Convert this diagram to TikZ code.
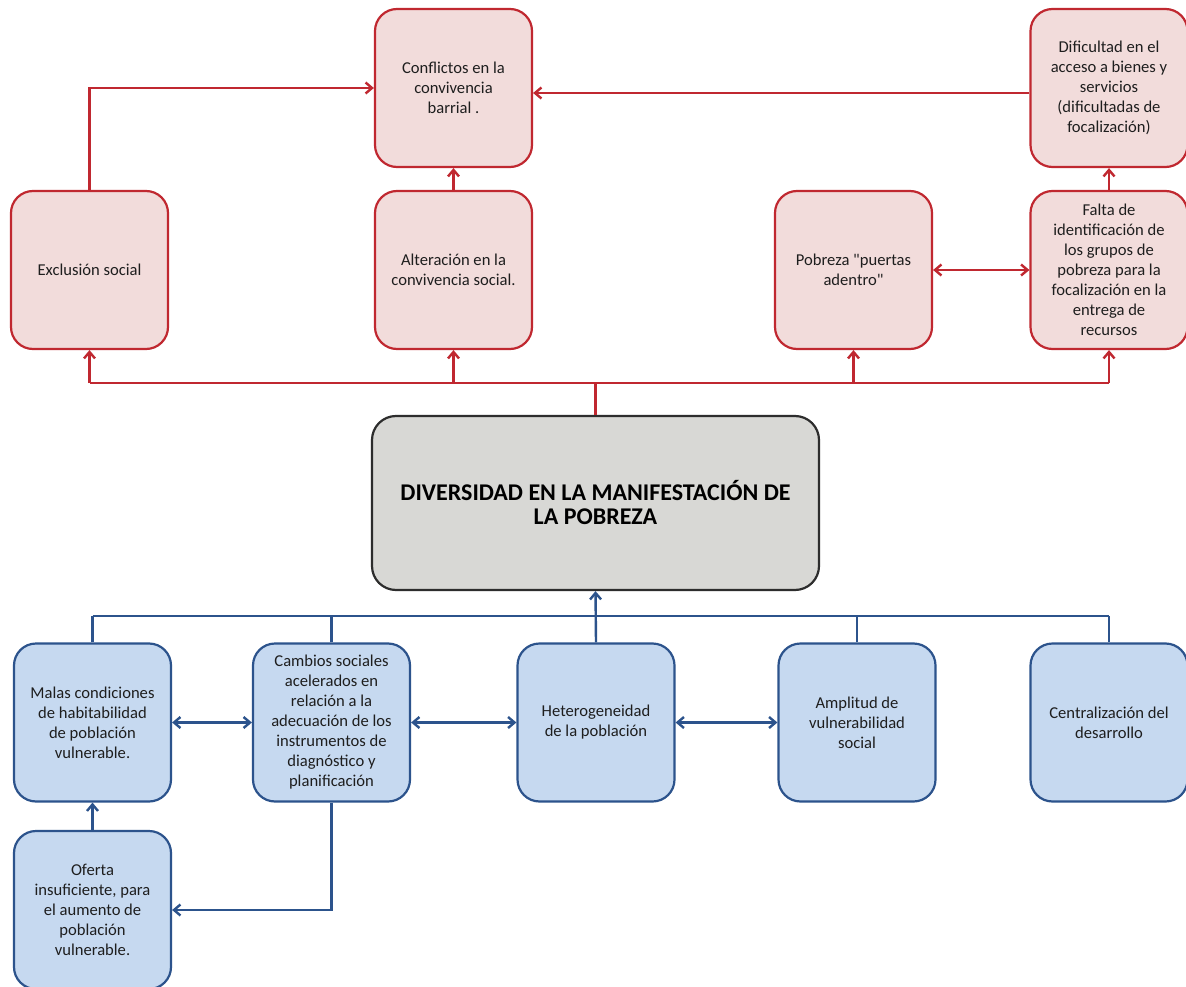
\documentclass[tikz,border=0pt]{standalone}
\usepackage{fontspec}
\setmainfont{Carlito}
\usetikzlibrary{arrows.meta}
\definecolor{rline}{RGB}{192,40,48}
\definecolor{rfill}{RGB}{242,220,219}
\definecolor{bline}{RGB}{44,83,140}
\definecolor{bfill}{RGB}{198,217,240}
\definecolor{gfill}{RGB}{216,216,213}
\definecolor{gline}{RGB}{45,45,45}
\definecolor{txt}{RGB}{30,30,30}
\begin{document}
\begin{tikzpicture}[x=1pt,y=-1pt,
 box/.style={rounded corners=22pt, minimum width=157pt, minimum height=158pt, align=center, line width=2.2pt, inner sep=0pt, font=\fontsize{16.6}{20}\selectfont, text=txt},
 redbox/.style={box, draw=rline, fill=rfill},
 bluebox/.style={box, draw=bline, fill=bfill},
 redline/.style={draw=rline, line width=2.4pt},
 blueline/.style={draw=bline, line width=2.4pt},
 tip/.style={-{Straight Barb[length=6.5pt,width=11pt]}},
 dtip/.style={{Straight Barb[length=6.5pt,width=11pt]}-{Straight Barb[length=6.5pt,width=11pt]}}
]
\useasboundingbox[fill=white] (0,0) rectangle (1186,987);

% red boxes
\node[redbox] (confl) at (453.5,88) {Conflictos en la\\convivencia\\barrial .};
\node[redbox] (dific) at (1109,88) {Dificultad en el\\acceso a bienes y\\servicios\\(dificultadas de\\focalización)};
\node[redbox] (excl) at (89.5,270) {Exclusión social};
\node[redbox] (alter) at (453.5,270) {Alteración en la\\convivencia social.};
\node[redbox] (pobre) at (853.5,270) {Pobreza \textquotedbl puertas\\adentro\textquotedbl};
\node[redbox] (falta) at (1109,270) {Falta de\\identificación de\\los grupos de\\pobreza para la\\focalización en la\\entrega de\\recursos};

% central box
\node[rounded corners=24pt, draw=gline, fill=gfill, line width=2.2pt, minimum width=447pt, minimum height=174pt, align=center, font=\fontsize{24}{24}\selectfont\bfseries, text=black] (center) at (595.5,503) {DIVERSIDAD EN LA MANIFESTACIÓN DE\\LA POBREZA};

% blue boxes
\node[bluebox] (malas) at (92.5,722.5) {Malas condiciones\\de habitabilidad\\de población\\vulnerable.};
\node[bluebox] (cambios) at (331.5,722.5) {Cambios sociales\\acelerados en\\relación a la\\adecuación de los\\instrumentos de\\diagnóstico y\\planificación};
\node[bluebox] (hetero) at (596,722.5) {Heterogeneidad\\de la población};
\node[bluebox] (ampl) at (857,722.5) {Amplitud de\\vulnerabilidad\\social};
\node[bluebox] (centr) at (1109,722.5) {Centralización del\\desarrollo};
\node[bluebox] (oferta) at (92.5,910) {Oferta\\insuficiente, para\\el aumento de\\población\\vulnerable.};

% red connectors
\coordinate (rbus) at (596,383);
\draw[redline,tip] (excl.north) |- (confl.west);
\draw[redline,tip] ([yshift=-5pt]dific.west) -- ([yshift=-5pt]confl.east);
\draw[redline,tip] (alter.north) -- (confl.south);
\draw[redline,tip] (falta.north) -- (dific.south);
\draw[redline,dtip] (pobre.east) -- (falta.west);
\draw[redline] (center.north) -- (center.north |- rbus);
\draw[redline] (excl.south |- rbus) -- (falta.south |- rbus);
\draw[redline,tip] (excl.south |- rbus) -- (excl.south);
\draw[redline,tip] (alter.south |- rbus) -- (alter.south);
\draw[redline,tip] (pobre.south |- rbus) -- (pobre.south);
\draw[redline,tip] (falta.south |- rbus) -- (falta.south);

% blue connectors
\coordinate (bbus) at (596,616);
\draw[blueline] (malas.north |- bbus) -- (centr.north |- bbus);
\draw[blueline] (malas.north) -- (malas.north |- bbus);
\draw[blueline] (cambios.north) -- (cambios.north |- bbus);
\draw[blueline,tip] (hetero.north) -- (center.south);
\draw[blueline] (ampl.north) -- (ampl.north |- bbus);
\draw[blueline] (centr.north) -- (centr.north |- bbus);
\draw[blueline,dtip] (malas.east) -- (cambios.west);
\draw[blueline,dtip] (cambios.east) -- (hetero.west);
\draw[blueline,dtip] (hetero.east) -- (ampl.west);
\draw[blueline,tip] (oferta.north) -- (malas.south);
\draw[blueline,tip] (cambios.south) |- (oferta.east);
\end{tikzpicture}
\end{document}
